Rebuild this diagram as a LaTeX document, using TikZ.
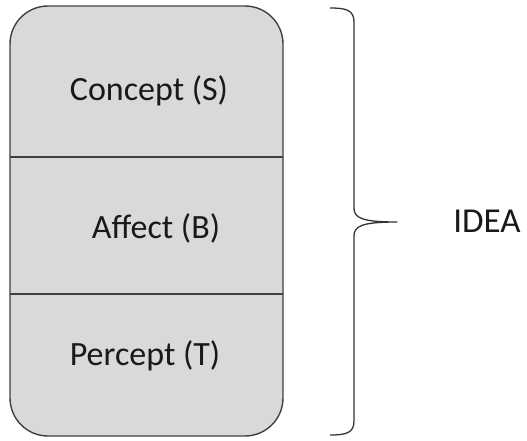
\documentclass[tikz,border=0pt]{standalone}
\usepackage{fontspec}
\setmainfont{Carlito}
\begin{document}
\begin{tikzpicture}[x=1pt,y=-1pt,
  outline/.style={draw=black!75, line width=1.4pt},
  label/.style={font=\fontsize{34}{40}\selectfont, text=black!90, inner sep=0pt, anchor=base}]
\useasboundingbox (0,0) rectangle (527,440);
% stacked container
\node[outline, fill=black!15, rounded corners=38pt, minimum width=273pt, minimum height=430pt, inner sep=0pt] (box) at (146.5,221) {};
\coordinate (d1l) at (10,157); \coordinate (d1r) at (283,157);
\coordinate (d2l) at (10,294); \coordinate (d2r) at (283,294);
\draw[outline] (d1l) -- (d1r);
\draw[outline] (d2l) -- (d2r);
\node[label] (concept) at (149,100) {Concept (S)};
\node[label] (affect) at (156,238) {Affect (B)};
\node[label] (percept) at (145,365) {Percept (T)};
% right brace
\coordinate (btop) at (330,8);
\coordinate (bbot) at (330,435);
\coordinate (tip) at (397,222);
\draw[black!80, line width=1.3pt, line join=round]
  (btop) .. controls (346,8) and (354,10) .. (354,22) -- (354,208)
  .. controls (354,218) and (362,222) .. (tip)
  .. controls (362,222) and (354,226) .. (354,236) -- (354,421)
  .. controls (354,433) and (346,435) .. (bbot);
\node[label, font=\fontsize{35}{40}\selectfont] (idea) at (487,232) {IDEA};
\end{tikzpicture}
\end{document}
